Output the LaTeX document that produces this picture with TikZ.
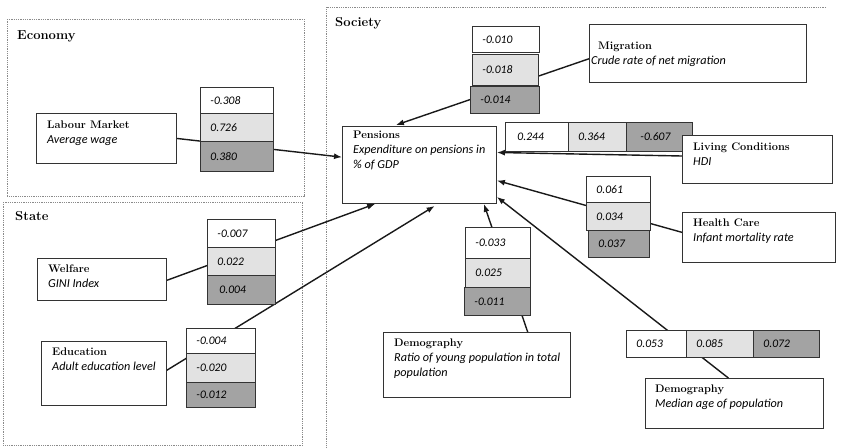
\documentclass[tikz,border=0pt]{standalone}
\usepackage{fontspec}
\newfontfamily\carl{Carlito}
\usetikzlibrary{arrows.meta,calc}
\definecolor{lightg}{HTML}{E2E2E2}
\definecolor{darkg}{HTML}{A3A3A3}
\definecolor{edgec}{HTML}{333333}
\definecolor{grpc}{HTML}{8A8A8A}
\pgfdeclarelayer{bg}
\pgfdeclarelayer{lines}
\pgfsetlayers{bg,lines,main}
\begin{document}
\begin{tikzpicture}[x=1pt,y=-1pt,
  grpbox/.style={draw=grpc, line width=0.7pt, dash pattern=on 0.9pt off 0.9pt, inner sep=0, anchor=north west},
  grptitle/.style={anchor=north west, inner sep=0, font=\bfseries\fontsize{13}{15}\selectfont},
  lbox/.style={draw=edgec, line width=0.9pt, fill=white, inner sep=0, anchor=north west},
  ltext/.style={anchor=north west, inner sep=0, align=left, font=\fontsize{11}{15}\selectfont},
  vb/.style={draw=edgec, line width=0.9pt, inner xsep=10pt, inner ysep=0, anchor=north west, align=left, font=\carl\itshape\fontsize{11.6}{13}\selectfont},
  wf/.style={fill=white}, lf/.style={fill=lightg}, df/.style={fill=darkg},
  conn/.style={draw=black!90, line width=1.4pt},
  arr/.style={conn, -{Latex[length=8pt,width=6pt]}}
]
\useasboundingbox (0,0) rectangle (858,447);
\newcommand\dsc[1]{{\carl\itshape\fontsize{12.2}{15}\selectfont #1}}

% group frames
\begin{pgfonlayer}{bg}
\node[grpbox, minimum width=297, minimum height=177] (economy) at (7,19) {};
\node[grpbox, minimum width=299, minimum height=243] (state) at (3,202) {};
\draw[draw=grpc, line width=0.7pt, dash pattern=on 0.9pt off 0.9pt] (826,7) coordinate (socr) -- (326,7) coordinate (soctl) -- (326,450) coordinate (socb);
\end{pgfonlayer}
\node[grptitle] (economyt) at (17,30) {Economy};
\node[grptitle] (statet) at (15,211) {State};
\node[grptitle] (societyt) at (335,17) {Society};

% label boxes (except Living Conditions, drawn later)
\node[lbox, minimum width=140, minimum height=50] (lm) at (36,113) {};
\node[ltext] (lmt) at (47,121) {\textbf{Labour Market}\\\dsc{Average wage}};
\node[lbox, minimum width=129, minimum height=42] (wel) at (37,258) {};
\node[ltext] (welt) at (48,265) {\textbf{Welfare}\\\dsc{GINI Index}};
\node[lbox, minimum width=125, minimum height=64] (edu) at (41,341) {};
\node[ltext] (edut) at (52,348) {\textbf{Education}\\\dsc{Adult education level}};
\node[lbox, minimum width=154, minimum height=77] (pens) at (342,126) {};
\node[ltext] (penst) at (353,131) {\textbf{Pensions}\\\dsc{Expenditure on pensions in}\\\dsc{\% of GDP}};
\node[lbox, minimum width=217, minimum height=58] (mig) at (589,24) {};
\node[ltext] (migt) at (591,42) {\hspace*{7pt}\textbf{Migration}\\\dsc{Crude rate of net migration}};
\node[lbox, minimum width=153, minimum height=50] (hc) at (682,212) {};
\node[ltext] (hct) at (693,219) {\textbf{Health Care}\\\dsc{Infant mortality rate}};
\node[lbox, minimum width=187, minimum height=65] (dem1) at (383,332) {};
\node[ltext] (dem1t) at (394,339) {\textbf{Demography}\\\dsc{Ratio of young population in total}\\\dsc{population}};
\node[lbox, minimum width=178, minimum height=50] (dem2) at (645,378) {};
\node[ltext] (dem2t) at (655,385) {\textbf{Demography}\\\dsc{Median age of population}};
\path (682,135) coordinate (livnw) (832,183) coordinate (livse);

% connectors
\begin{pgfonlayer}{lines}
\draw[arr] (lm.east) -- ($(pens.north west)!0.40!(pens.south west)$);
\draw[arr, shorten >=3pt] ($(mig.north west)!0.59!(mig.south west)$) -- ($(pens.north west)!0.33!(pens.north east)$);
\draw[arr] (682,156) coordinate (livs) -- ($(pens.north east)!0.34!(pens.south east)$);
\draw[arr] ($(hc.north west)!0.40!(hc.south west)$) -- ($(pens.north east)!0.70!(pens.south east)$);
\draw[arr] ($(dem1.north west)!0.77!(dem1.north east)$) -- ($(pens.south west)!0.916!(pens.south east)$);
\draw[arr] ($(dem2.north west)!0.466!(dem2.north east)$) -- ($(pens.north east)!0.91!(pens.south east)$);
\draw[arr] ($(wel.north east)!0.52!(wel.south east)$) -- ($(pens.south west)!0.214!(pens.south east)$);
\draw[arr, shorten >=4pt] ($(edu.north east)!0.45!(edu.south east)$) -- ($(pens.south west)!0.62!(pens.south east)$);
\end{pgfonlayer}

% value boxes
\node[vb, wf, text width=53, minimum height=26] (lm1) at (200,87) {-0.308};
\node[vb, lf, text width=53, minimum height=28] (lm2) at (200,113) {0.726};
\node[vb, df, text width=53, minimum height=30] (lm3) at (200,141) {0.380};

\node[vb, wf, text width=47, minimum height=26] (mig1) at (472,26) {-0.010};
\node[vb, lf, text width=46, minimum height=31] (mig2) at (472,54) {-0.018};
\node[vb, df, text width=49, minimum height=27] (mig3) at (470,86) {-0.014};

\node[vb, wf, text width=43, minimum height=29] (liv1) at (505,122) {\hspace*{2pt}0.244};
\node[vb, lf, text width=38, minimum height=29] (liv2) at (568,122) {0.364};
\node[vb, df, text width=46, minimum height=29] (liv3) at (626,122) {\hspace*{4pt}-0.607};

\node[vb, wf, text width=44, minimum height=26] (hc1) at (586,176) {0.061};
\node[vb, lf, text width=44, minimum height=28] (hc2) at (586,202) {0.034};
\node[vb, df, text width=41, minimum height=27] (hc3) at (588,230) {0.037};

\node[vb, wf, text width=45, minimum height=31] (d11) at (465,227) {-0.033};
\node[vb, lf, text width=45, minimum height=29] (d12) at (465,258) {0.025};
\node[vb, df, text width=46, minimum height=28] (d13) at (464,287) {-0.011};

\node[vb, wf, text width=40, minimum height=27] (d21) at (626,330) {0.053};
\node[vb, lf, text width=47, minimum height=27] (d22) at (686,330) {0.085};
\node[vb, df, text width=46, minimum height=27] (d23) at (753,330) {0.072};

\node[vb, wf, text width=48, minimum height=28] (wel1) at (207,219) {-0.007};
\node[vb, lf, text width=48, minimum height=28] (wel2) at (207,247) {0.022};
\node[vb, df, text width=48, minimum height=29] (wel3) at (207,275) {\hspace*{2pt}0.004};

\node[vb, wf, text width=49, minimum height=25] (edu1) at (186,328) {-0.004};
\node[vb, lf, text width=49, minimum height=29] (edu2) at (186,353) {-0.020};
\node[vb, df, text width=49, minimum height=25] (edu3) at (186,382) {-0.012};

% Living Conditions box in front of its values
\node[lbox, minimum width=150, minimum height=48] (liv) at (livnw) {};
\node[ltext] (livt) at (693,143) {\textbf{Living Conditions}\\\dsc{HDI}};
\end{tikzpicture}
\end{document}
